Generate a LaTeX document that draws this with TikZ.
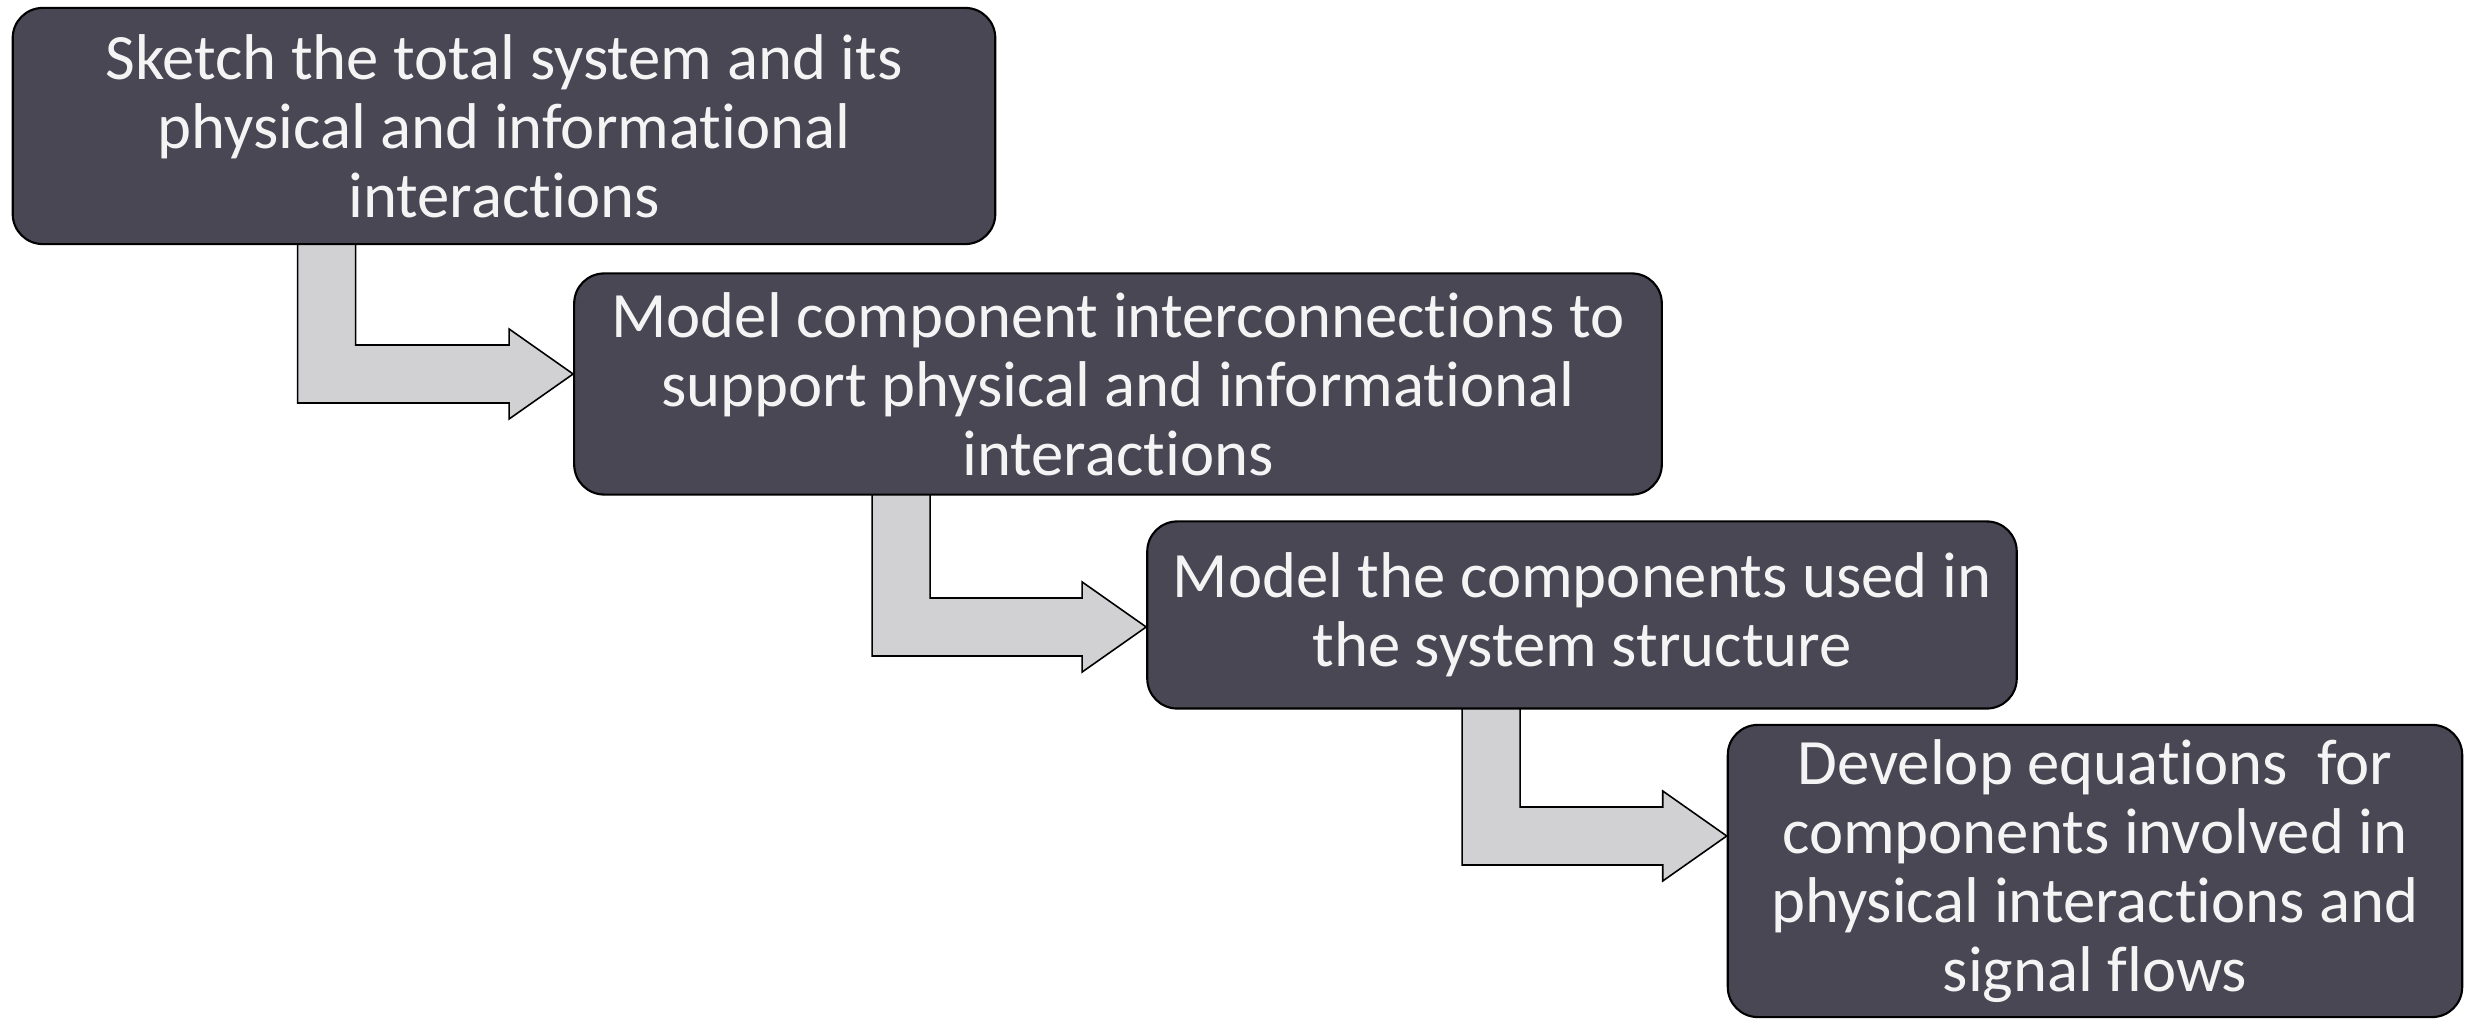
\documentclass[tikz,border=0pt]{standalone}
\usepackage{fontspec}
\setmainfont[Ligatures={NoCommon}]{Carlito}
\usepackage{tikz}
\usetikzlibrary{calc,backgrounds}

\definecolor{boxfill}{HTML}{4A4754}
\definecolor{arrowfill}{HTML}{D1D1D3}
\definecolor{boxtext}{HTML}{F4F4F4}

% stem top, tip
\newcommand\bendarrow[2]{%
    \draw[bentarrow] ($(#1)+(0,-4)$) -- ++(58,0) |- ($(#2)+(-64,-29)$) -- ++(0,-16) -- (#2)
        -- ++(-64,45) -- ++(0,-16) -| (#1) -- cycle;}

\begin{document}
\begin{tikzpicture}[x=0.01cm, y=-0.01cm, font=\fontsize{18.4}{19.6}\selectfont,
    stepbox/.style={draw, line width=0.6pt, fill=boxfill, text=boxtext, rounded corners=0.3cm,
        align=center, inner sep=0pt},
    bentarrow/.style={draw, line width=0.45pt, fill=arrowfill}]

    \useasboundingbox (0,0) rectangle (2465,1019);

    \node[stepbox, minimum width=9.82cm, minimum height=2.36cm] (s1) at (504,126)
    { Sketch the total system and its\\ physical and informational\\ interactions };

    \node[stepbox, minimum width=10.87cm, minimum height=2.21cm] (s2) at (1118,384)
    { Model component interconnections to\\ support physical and informational\\ interactions };

    \node[stepbox, minimum width=8.69cm, minimum height=1.87cm] (s3) at (1582,615)
    { Model the components used in\\ the system structure };

    \node[stepbox, minimum width=7.34cm, minimum height=2.92cm] (s4) at (2095,871)
    { Develop equations\ \ for\\ components involved in\\ physical interactions and\\ signal flows };

    % ---------------------------------------------------------

    \coordinate (a1) at ($(s1.south west)+(286,0)$);
    \coordinate (a2) at ($(s2.south west)+(299,0)$);
    \coordinate (a3) at ($(s3.south west)+(316,0)$);

    \coordinate (t1) at ($(s2.west)+(0,-10)$);
    \coordinate (t2) at ($(s3.west)+(0,12)$);
    \coordinate (t3) at ($(s4.west)+(0,-35)$);

    \begin{scope}[on background layer]
        \bendarrow{a1}{t1}
        \bendarrow{a2}{t2}
        \bendarrow{a3}{t3}
    \end{scope}
\end{tikzpicture}
\end{document}
